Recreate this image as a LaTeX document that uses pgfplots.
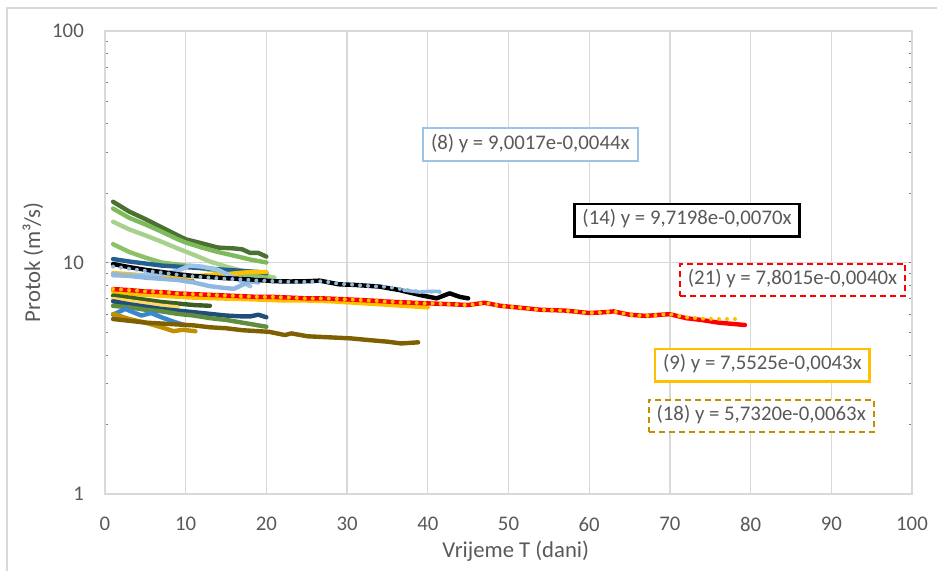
\documentclass[border=0pt]{standalone}
\usepackage{fontspec}
\setmainfont{Carlito}
\usepackage{pgfplots}
\pgfplotsset{compat=1.18}
\definecolor{gridgray}{HTML}{D9D9D9}
\definecolor{labgray}{HTML}{595959}
\definecolor{cA}{HTML}{4A7131}
\definecolor{cB}{HTML}{7FBA5A}
\definecolor{cC}{HTML}{A9D18E}
\definecolor{cD}{HTML}{8CC168}
\definecolor{cE}{HTML}{255E91}
\definecolor{lblue}{HTML}{8FB8E0}
\definecolor{lblue2}{HTML}{9DC3E6}
\definecolor{yel}{HTML}{FFC000}
\definecolor{yel2}{HTML}{FFD966}
\definecolor{cK}{HTML}{3B5E23}
\definecolor{cM}{HTML}{1F4E79}
\definecolor{cN}{HTML}{5E8E3E}
\definecolor{cO}{HTML}{3A86D0}
\definecolor{gold}{HTML}{BF9000}
\definecolor{brown}{HTML}{7F6000}
\newcommand\ticfont{\fontsize{20.8}{24}\selectfont}
\newcommand\labfont{\fontsize{22.7}{27}\selectfont}
\begin{document}
\begin{tikzpicture}
\begin{axis}[
  at={(105pt,77pt)}, anchor=south west,
  scale only axis, width=807pt, height=463pt,
  xmin=0, xmax=100, ymode=log, ymin=1, ymax=100,
  xtick={0,10,...,100}, ytick={1,10,100}, yticklabels={1,10,100},
  grid=major, major grid style={draw=gridgray, line width=1.3pt},
  axis line style={draw=gridgray, line width=1.3pt},
  major tick length=0pt, minor tick num=0,
  /pgf/number format/assume math mode=true,
  ticklabel style={text=labgray, font=\ticfont, inner sep=0pt},
  xticklabel style={yshift=-23pt},
  yticklabel style={xshift=-21pt},
  xlabel={Vrijeme T (dani)}, ylabel={Protok (m³/s)},
  xlabel style={at={(axis description cs:0.509,-0.123)}, anchor=center, text=labgray, font=\labfont},
  ylabel style={at={(axis description cs:-0.0892,0.5)}, anchor=center, text=labgray, font=\labfont},
  every axis plot/.append style={line width=4.4pt, line join=round, line cap=round, mark=none},
]
% upper greens
\addplot[cA] coordinates {(1,18.3)(3,16.6)(5,15.4)(7,14.2)(9,13.1)(10,12.6)(12,12.1)(14,11.6)(16,11.5)(17,11.4)(18,11.0)(19,11.0)(20,10.6)};
\addplot[cB] coordinates {(1,17.1)(3,15.6)(5,14.6)(7,13.6)(9,12.6)(10,12.2)(12,11.6)(14,11.1)(16,10.7)(18,10.3)(20,10.0)};
\addplot[cC] coordinates {(1,15.0)(3,13.9)(5,13.1)(7,12.3)(9,11.5)(11,10.8)(13,10.1)(15,9.6)(17,9.2)(19,8.9)(21,8.6)};
\addplot[cD] coordinates {(1,12.0)(3,11.1)(5,10.5)(7,10.0)(9,9.8)(11,9.6)(13,9.3)(15,9.1)(17,8.9)(19,8.8)(20,8.7)};
% upper blues / yellows
\addplot[cE] coordinates {(1,10.35)(3,10.1)(5,9.9)(7,9.7)(9,9.6)(11,9.5)(13,9.4)(15,9.3)(17,9.2)(19,9.1)(20,9.0)};
\addplot[yel] coordinates {(1,9.0)(5,8.8)(10,8.7)(15,8.9)(18,9.1)(20,9.1)};
\addplot[gold, line width=3pt] coordinates {(1,8.8)(5,8.65)(8,8.5)(11,8.35)};
\addplot[lblue2] coordinates {(1,8.8)(4,8.8)(7,8.9)(9,9.2)(10.5,9.7)(12,9.6)(14,9.3)(16,8.6)(18,7.9)};
\addplot[lblue] coordinates {(1,8.9)(3,8.75)(5,8.6)(7,8.5)(9,8.4)(11,8.2)(13,7.9)(15,7.75)(16,7.7)(17,8.0)(18,8.3)(19,8.2)};
% yellow solid long
\addplot[yel] coordinates {(1,7.5)(3,7.35)(5,7.25)(8,7.15)(11,7.05)(14,7.0)(17,6.95)(20,6.9)(22,6.85)(25,6.85)(28,6.8)(31,6.7)(34,6.6)(37,6.5)(40,6.4)};
% red (21)
\addplot[red] coordinates {(1,7.68)(3,7.6)(5,7.5)(7,7.45)(9,7.35)(11,7.3)(13,7.25)(15,7.2)(17,7.15)(19,7.1)(21,7.1)(23,7.05)(25,7.0)(27,7.0)(30,6.93)(33,6.85)(36,6.75)(40,6.66)(43,6.6)(45,6.55)(47,6.7)(49,6.5)(52,6.35)(54,6.25)(57,6.2)(60,6.05)(62,6.1)(63,6.15)(65,5.95)(67,5.88)(69,5.95)(70,5.98)(72,5.75)(74,5.64)(76,5.5)(78,5.42)(79.3,5.37)};
% yellow dotted (9)
\addplot[yel, line width=4pt, dash pattern=on 0pt off 8pt] coordinates {(1,7.68)(3,7.6)(5,7.5)(7,7.45)(9,7.35)(11,7.3)(13,7.25)(15,7.2)(17,7.15)(19,7.1)(21,7.1)(23,7.05)(25,7.0)(27,7.0)(30,6.93)(33,6.85)(36,6.75)(40,6.66)(43,6.6)(45,6.55)(47,6.7)(49,6.5)(52,6.35)(54,6.25)(57,6.2)(60,6.05)(62,6.1)(63,6.15)(65,5.95)(67,5.88)(69,5.95)(70,5.98)(72,5.8)(74,5.72)(76,5.7)(78.4,5.7)};
% black (14)
\addplot[black] coordinates {(1,9.85)(3,9.55)(5,9.3)(7,9.1)(9,8.9)(11,8.75)(13,8.65)(15,8.55)(17,8.5)(19,8.4)(21,8.3)(23,8.28)(25,8.3)(26.6,8.35)(29,8.05)(31,8.0)(34,7.87)(36.5,7.6)(39,7.24)(41.1,7.0)(42.7,7.36)(44,7.1)(45,7.0)};
% light blue solid end piece and dotted (8)
\addplot[lblue, line width=3.5pt] coordinates {(37,7.6)(39,7.45)(40,7.5)(41.5,7.5)};
\addplot[lblue, line width=4pt, dash pattern=on 0pt off 8pt] coordinates {(1,9.6)(3,9.4)(5,9.2)(7,9.05)(9,8.85)(11,8.7)(13,8.6)(15,8.5)(17,8.45)(19,8.35)(21,8.3)(23,8.25)(25,8.25)(27,8.3)(29,8.1)(31,8.0)(33,7.9)(35,7.85)(37,7.65)(38,7.55)(39,7.5)(40,7.45)(41,7.5)(41.5,7.45)};
% lower group
\addplot[cK] coordinates {(1,7.2)(3,7.05)(5,6.9)(7,6.75)(9,6.65)(11,6.55)(13,6.5)};
\addplot[yel2] coordinates {(1,6.95)(3,6.8)(5,6.65)(7,6.5)(9,6.4)};
\addplot[cM] coordinates {(1,6.8)(3,6.6)(5,6.45)(7,6.3)(9,6.2)(11,6.1)(13,6.0)(15,5.9)(17,5.85)(18,5.85)(19,5.95)(20,5.8)};
\addplot[cN] coordinates {(1,6.5)(3,6.4)(5,6.25)(7,6.15)(9,6.0)(11,5.9)(13,5.75)(15,5.65)(17,5.5)(19,5.35)(20,5.28)};
\addplot[cO] coordinates {(1,5.95)(2.5,6.3)(4.5,5.9)(5.7,6.05)(7,5.8)(8.5,5.55)(10,5.35)};
\addplot[gold] coordinates {(1,6.0)(3,5.7)(5,5.5)(7,5.25)(8.5,5.05)(9.6,5.12)(11.2,5.05)};
\addplot[brown] coordinates {(1,5.7)(3,5.6)(5,5.5)(7,5.45)(9,5.4)(11,5.35)(13,5.25)(15,5.2)(17,5.1)(19,5.05)(20.3,5.02)(22.3,4.86)(23.1,4.94)(25.1,4.8)(28.4,4.74)(30.5,4.7)(32.5,4.63)(35,4.55)(36.7,4.47)(38.8,4.52)};
% trendline labels
\tikzset{eqlab/.style={fill=white, text=labgray, font=\ticfont, inner xsep=8pt, inner ysep=7pt, text height=14pt, text depth=4.5pt, anchor=center}}
\node[eqlab, draw=lblue2, line width=2pt] at (axis cs:52.70,32.28) {(8) y = 9,0017e-0,0044x};
\node[eqlab, draw=black, line width=2.5pt] at (axis cs:72.12,15.26) {(14) y = 9,7198e-0,0070x};
\node[eqlab, draw=red, line width=2pt, dash pattern=on 6pt off 4pt] at (axis cs:85.19,8.40) {(21) y = 7,8015e-0,0040x};
\node[eqlab, draw=yel, line width=2.5pt] at (axis cs:81.45,3.608) {(9) y = 7,5525e-0,0043x};
\node[eqlab, draw=gold, line width=2pt, dash pattern=on 6pt off 4pt] at (axis cs:81.31,2.177) {(18) y = 5,7320e-0,0063x};
\end{axis}
\draw[gridgray, line width=1.5pt] (7pt,0pt) -- (7pt,563pt) -- (937pt,563pt);
\pgfresetboundingbox
\useasboundingbox (0pt,0pt) rectangle (937pt,571pt);
\end{tikzpicture}
\end{document}
